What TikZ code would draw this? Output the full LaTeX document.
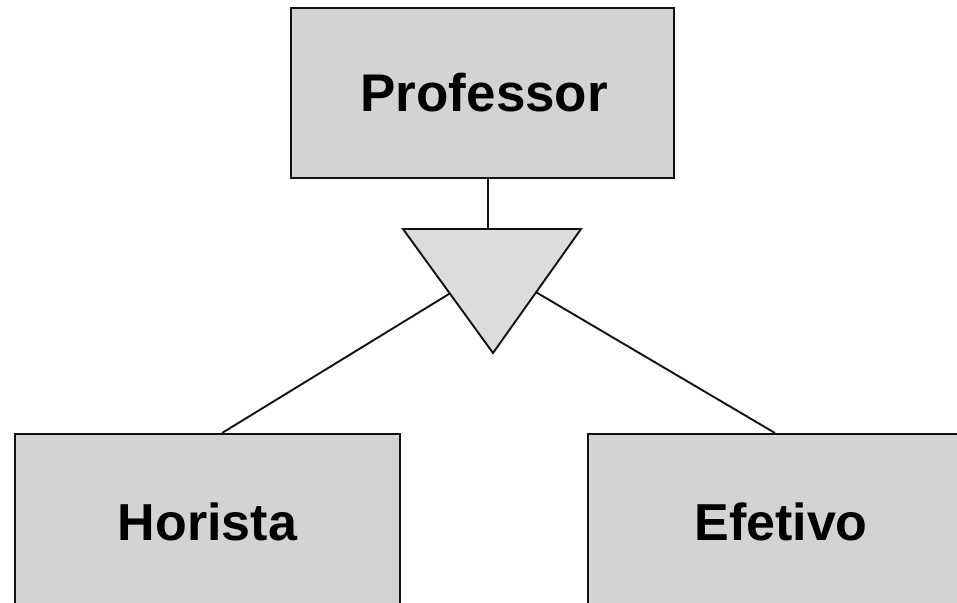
\documentclass[tikz,border=0pt]{standalone}
\usepackage{fontspec}
\setmainfont{Liberation Sans}
\usetikzlibrary{calc}
\definecolor{boxfill}{HTML}{D3D3D3}
\definecolor{trifill}{HTML}{DCDCDC}
\definecolor{edge}{HTML}{111111}
\tikzset{
  entity/.style={draw=edge, fill=boxfill, line width=2pt, rectangle, inner sep=0pt,
    font=\bfseries\fontsize{52}{60}\selectfont},
  conn/.style={draw=edge, line width=1.9pt},
  isa/.style={draw=edge, fill=trifill, line width=1.9pt, line join=miter}
}
\begin{document}
\begin{tikzpicture}[x=1pt,y=-1pt]
\useasboundingbox (0,0) rectangle (957,602);
\clip (0,0) rectangle (957,602);
\fill[white] (0,0) rectangle (957,602);
% triangle coordinates
\coordinate (tl) at (403,229);
\coordinate (tr) at (581,229);
\coordinate (tb) at (493,353);
\coordinate (tt) at (488,229);
% entities
\node[entity, minimum width=383pt, minimum height=170.5pt, font=\bfseries\fontsize{53}{60}\selectfont] (prof) at (482.3,92.8) {\hspace*{4pt}Professor};
\node[entity, minimum width=385pt, minimum height=176pt] (hor) at (207.5,522) {Horista};
\node[entity, minimum width=386pt, minimum height=176pt] (efe) at (781,522) {Efetivo};
% connectors
\draw[conn] (tt) -- (tt |- prof.south);
\draw[conn] ($(tl)!0.52!(tb)$) -- ([xshift=14.5pt]hor.north);
\draw[conn] ($(tr)!0.51!(tb)$) -- ([xshift=-6pt]efe.north);
% ISA triangle
\draw[isa] (tl) -- (tr) -- (tb) -- cycle;
\end{tikzpicture}
\end{document}
